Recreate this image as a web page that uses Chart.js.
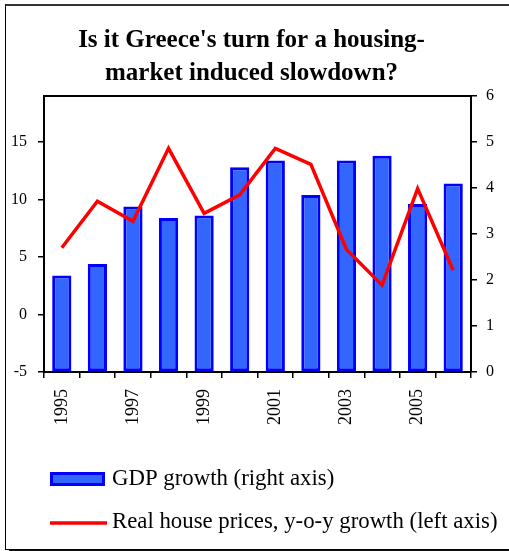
<!DOCTYPE html>
<html>
<head>
<meta charset="utf-8">
<script src="https://cdn.jsdelivr.net/npm/chart.js@4.4.1/dist/chart.umd.min.js"></script>
<style>
  html, body { margin: 0; padding: 0; background: #fff; overflow: hidden; }
  #wrap { position: relative; width: 509px; height: 551px; }
  #frame {
    position: absolute; left: 5px; top: 4px; width: 600px; height: 543px;
    border-left: 1px solid #000; border-top: 2px solid #333; border-bottom: 1px solid #000;
    box-shadow: 4px 2px 0 #111;
  }
  canvas { position: absolute; left: 0; top: 0; }
</style>
</head>
<body>
<div id="wrap">
  <div id="frame"></div>
  <canvas id="greeceChart" width="509" height="551"></canvas>
</div>
<script>
const years = ['1995', '1996', '1997', '1998', '1999', '2000', '2001', '2002', '2003', '2004', '2005', '2006'];
// GDP growth, % (right axis)
const gdpGrowth = [2.1, 2.35, 3.6, 3.35, 3.4, 4.45, 4.6, 3.85, 4.6, 4.7, 3.65, 4.1];
// Real house prices, y-o-y growth, % (left axis)
const housePrices = [5.8, 9.85, 8.1, 14.45, 8.8, 10.4, 14.45, 13.05, 5.65, 2.55, 10.95, 3.85];

const serif = "'Liberation Serif', 'Times New Roman', serif";
Chart.defaults.font.family = serif;
Chart.defaults.color = '#000';

// top edge of the plot box plus the two-row legend underneath
const boxAndLegend = {
    id: 'boxAndLegend',
    afterDraw(chart) {
        const ctx = chart.ctx;
        const area = chart.chartArea;
        const ds = chart.data.datasets;
        ctx.save();
        ctx.strokeStyle = '#000';
        ctx.lineWidth = 2;
        ctx.beginPath();
        ctx.moveTo(area.left, area.top);
        ctx.lineTo(area.right, area.top);
        ctx.stroke();

        ctx.font = '22.8px ' + serif;
        ctx.textBaseline = 'middle';

        // bar swatch
        ctx.fillStyle = ds[1].backgroundColor;
        ctx.fillRect(50, 472, 55, 14);
        ctx.strokeStyle = ds[1].borderColor;
        ctx.lineWidth = 3;
        ctx.strokeRect(51.5, 473.5, 52, 11);
        ctx.fillStyle = '#000';
        ctx.fillText(ds[1].label, 112, 479);

        // line swatch
        ctx.strokeStyle = ds[0].borderColor;
        ctx.lineWidth = 3.5;
        ctx.beginPath();
        ctx.moveTo(50, 523);
        ctx.lineTo(107, 523);
        ctx.stroke();
        ctx.fillText(ds[0].label, 112, 522);
        ctx.restore();
    }
};

const ctx = document.getElementById('greeceChart').getContext('2d');
const greeceChart = new Chart(ctx, {
    data: {
        labels: years,
        datasets: [
            {
                type: 'line',
                label: 'Real house prices, y-o-y growth (left axis)',
                data: housePrices,
                yAxisID: 'y',
                borderColor: '#ff0000',
                borderWidth: 3.5,
                pointRadius: 0,
                tension: 0,
                order: 0
            },
            {
                type: 'bar',
                label: 'GDP growth (right axis)',
                data: gdpGrowth,
                yAxisID: 'y1',
                backgroundColor: '#3366ff',
                borderColor: '#0000ff',
                borderWidth: 3,
                borderSkipped: false,
                barPercentage: 0.54,
                categoryPercentage: 1,
                order: 1
            }
        ]
    },
    options: {
        responsive: false,
        animation: false,
        layout: { padding: { top: 0, left: 0, right: 6, bottom: 115 } },
        plugins: {
            legend: { display: false },
            tooltip: { enabled: false },
            title: {
                display: true,
                text: ["Is it Greece's turn for a housing-", 'market induced slowdown?'],
                font: { size: 25, weight: 'bold', family: serif, lineHeight: 1.32 },
                color: '#000',
                padding: { top: 24, bottom: 6 }
            }
        },
        scales: {
            x: {
                z: 1,
                grid: { offset: true, drawOnChartArea: false, tickLength: 6, color: '#000', lineWidth: 1.5 },
                border: { color: '#000', width: 2 },
                ticks: {
                    autoSkip: false,
                    maxRotation: 90,
                    minRotation: 90,
                    padding: 11,
                    font: { size: 18 },
                    callback: (v, i) => (i % 2 === 0 ? years[i] : '')
                }
            },
            y: {
                position: 'left',
                min: -5,
                max: 19,
                grid: { drawOnChartArea: false, tickLength: 6, color: '#000', lineWidth: 1.5 },
                border: { color: '#000', width: 2 },
                ticks: { stepSize: 5, includeBounds: false, padding: 11, font: { size: 16 } }
            },
            y1: {
                position: 'right',
                min: 0,
                max: 6,
                grid: { drawOnChartArea: false, tickLength: 6, color: '#000', lineWidth: 1.5 },
                border: { color: '#000', width: 2 },
                ticks: { stepSize: 1, padding: 9, font: { size: 16 } }
            }
        }
    },
    plugins: [boxAndLegend]
});
</script>
</body>
</html>
